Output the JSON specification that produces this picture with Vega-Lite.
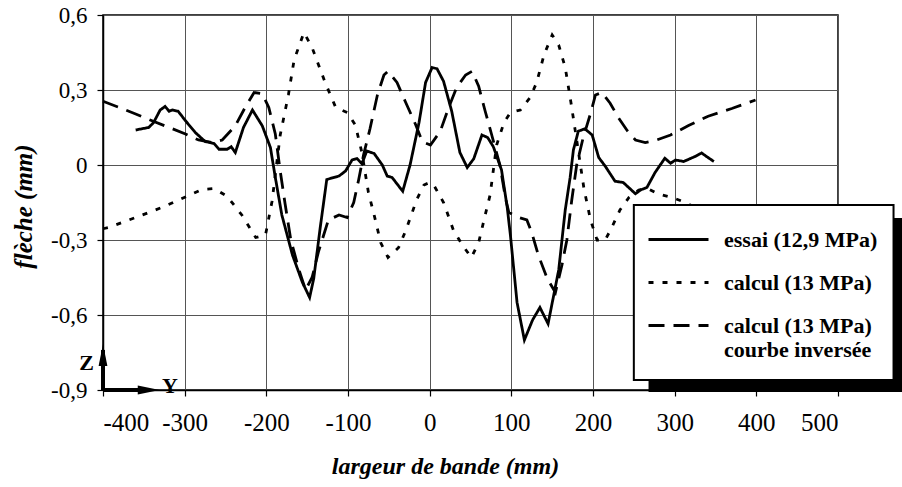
{
  "$schema": "https://vega.github.io/schema/vega-lite/v6.json",
  "autosize": {"type": "none"},
  "padding": {"left": 103, "top": 15, "right": 64, "bottom": 97},
  "width": 735,
  "height": 375,
  "background": "white",
  "config": {
    "font": "Liberation Serif",
    "view": {"stroke": "black", "strokeWidth": 1.5},
    "axis": {
      "domainColor": "black", "domainWidth": 1.5,
      "gridColor": "#555", "gridWidth": 1, "gridOpacity": 1,
      "tickColor": "black", "tickWidth": 1.2, "tickSize": 6,
      "labelFont": "Liberation Serif", "labelColor": "black",
      "titleFont": "Liberation Serif", "titleColor": "black",
      "titleFontStyle": "italic", "titleFontWeight": "bold"
    }
  },
  "layer": [
    {
      "data": {"values": [
        {"s":"essai (12,9 MPa)","x":-360,"y":0.14},{"s":"essai (12,9 MPa)","x":-344,"y":0.15},{"s":"essai (12,9 MPa)","x":-338,"y":0.17},{"s":"essai (12,9 MPa)","x":-330,"y":0.22},{"s":"essai (12,9 MPa)","x":-324,"y":0.234},{"s":"essai (12,9 MPa)","x":-319,"y":0.215},{"s":"essai (12,9 MPa)","x":-315,"y":0.22},{"s":"essai (12,9 MPa)","x":-308,"y":0.215},{"s":"essai (12,9 MPa)","x":-299,"y":0.177},{"s":"essai (12,9 MPa)","x":-287,"y":0.13},{"s":"essai (12,9 MPa)","x":-275,"y":0.094},{"s":"essai (12,9 MPa)","x":-264,"y":0.086},{"s":"essai (12,9 MPa)","x":-258,"y":0.063},{"s":"essai (12,9 MPa)","x":-248,"y":0.063},{"s":"essai (12,9 MPa)","x":-243,"y":0.073},{"s":"essai (12,9 MPa)","x":-238,"y":0.05},{"s":"essai (12,9 MPa)","x":-228,"y":0.15},{"s":"essai (12,9 MPa)","x":-217,"y":0.22},{"s":"essai (12,9 MPa)","x":-205,"y":0.157},{"s":"essai (12,9 MPa)","x":-195,"y":0.07},{"s":"essai (12,9 MPa)","x":-189,"y":-0.05},{"s":"essai (12,9 MPa)","x":-181,"y":-0.2},{"s":"essai (12,9 MPa)","x":-168,"y":-0.36},{"s":"essai (12,9 MPa)","x":-156,"y":-0.468},{"s":"essai (12,9 MPa)","x":-147,"y":-0.53},{"s":"essai (12,9 MPa)","x":-142,"y":-0.455},{"s":"essai (12,9 MPa)","x":-134,"y":-0.25},{"s":"essai (12,9 MPa)","x":-126,"y":-0.058},{"s":"essai (12,9 MPa)","x":-111,"y":-0.044},{"s":"essai (12,9 MPa)","x":-103,"y":-0.024},{"s":"essai (12,9 MPa)","x":-95,"y":0.02},{"s":"essai (12,9 MPa)","x":-89,"y":0.026},{"s":"essai (12,9 MPa)","x":-83,"y":0.005},{"s":"essai (12,9 MPa)","x":-77,"y":0.056},{"s":"essai (12,9 MPa)","x":-68,"y":0.046},{"s":"essai (12,9 MPa)","x":-58,"y":0.0},{"s":"essai (12,9 MPa)","x":-52,"y":-0.044},{"s":"essai (12,9 MPa)","x":-46,"y":-0.05},{"s":"essai (12,9 MPa)","x":-33,"y":-0.105},{"s":"essai (12,9 MPa)","x":-24,"y":0.0},{"s":"essai (12,9 MPa)","x":-13,"y":0.17},{"s":"essai (12,9 MPa)","x":-5,"y":0.33},{"s":"essai (12,9 MPa)","x":3,"y":0.39},{"s":"essai (12,9 MPa)","x":9,"y":0.385},{"s":"essai (12,9 MPa)","x":17,"y":0.335},{"s":"essai (12,9 MPa)","x":27,"y":0.215},{"s":"essai (12,9 MPa)","x":37,"y":0.05},{"s":"essai (12,9 MPa)","x":46,"y":-0.01},{"s":"essai (12,9 MPa)","x":54,"y":0.025},{"s":"essai (12,9 MPa)","x":64,"y":0.12},{"s":"essai (12,9 MPa)","x":71,"y":0.11},{"s":"essai (12,9 MPa)","x":78,"y":0.073},{"s":"essai (12,9 MPa)","x":88,"y":-0.02},{"s":"essai (12,9 MPa)","x":95,"y":-0.17},{"s":"essai (12,9 MPa)","x":99,"y":-0.285},{"s":"essai (12,9 MPa)","x":107,"y":-0.55},{"s":"essai (12,9 MPa)","x":116,"y":-0.7},{"s":"essai (12,9 MPa)","x":126,"y":-0.62},{"s":"essai (12,9 MPa)","x":135,"y":-0.57},{"s":"essai (12,9 MPa)","x":145,"y":-0.635},{"s":"essai (12,9 MPa)","x":158,"y":-0.42},{"s":"essai (12,9 MPa)","x":166,"y":-0.18},{"s":"essai (12,9 MPa)","x":172,"y":-0.05},{"s":"essai (12,9 MPa)","x":176,"y":0.06},{"s":"essai (12,9 MPa)","x":182,"y":0.135},{"s":"essai (12,9 MPa)","x":190,"y":0.145},{"s":"essai (12,9 MPa)","x":199,"y":0.12},{"s":"essai (12,9 MPa)","x":207,"y":0.03},{"s":"essai (12,9 MPa)","x":215,"y":-0.005},{"s":"essai (12,9 MPa)","x":227,"y":-0.065},{"s":"essai (12,9 MPa)","x":237,"y":-0.07},{"s":"essai (12,9 MPa)","x":252,"y":-0.115},{"s":"essai (12,9 MPa)","x":258,"y":-0.1},{"s":"essai (12,9 MPa)","x":266,"y":-0.09},{"s":"essai (12,9 MPa)","x":276,"y":-0.03},{"s":"essai (12,9 MPa)","x":288,"y":0.027},{"s":"essai (12,9 MPa)","x":295,"y":0.007},{"s":"essai (12,9 MPa)","x":301,"y":0.02},{"s":"essai (12,9 MPa)","x":311,"y":0.014},{"s":"essai (12,9 MPa)","x":325,"y":0.034},{"s":"essai (12,9 MPa)","x":333,"y":0.048},{"s":"essai (12,9 MPa)","x":339,"y":0.034},{"s":"essai (12,9 MPa)","x":348,"y":0.014},
        {"s":"calcul (13 MPa)","x":-400,"y":-0.255},{"s":"calcul (13 MPa)","x":-393,"y":-0.25},{"s":"calcul (13 MPa)","x":-360,"y":-0.21},{"s":"calcul (13 MPa)","x":-328,"y":-0.17},{"s":"calcul (13 MPa)","x":-297,"y":-0.125},{"s":"calcul (13 MPa)","x":-279,"y":-0.098},{"s":"calcul (13 MPa)","x":-264,"y":-0.094},{"s":"calcul (13 MPa)","x":-248,"y":-0.125},{"s":"calcul (13 MPa)","x":-230,"y":-0.2},{"s":"calcul (13 MPa)","x":-213,"y":-0.29},{"s":"calcul (13 MPa)","x":-201,"y":-0.28},{"s":"calcul (13 MPa)","x":-193,"y":-0.145},{"s":"calcul (13 MPa)","x":-183,"y":0.12},{"s":"calcul (13 MPa)","x":-173,"y":0.28},{"s":"calcul (13 MPa)","x":-166,"y":0.42},{"s":"calcul (13 MPa)","x":-154,"y":0.53},{"s":"calcul (13 MPa)","x":-144,"y":0.47},{"s":"calcul (13 MPa)","x":-128,"y":0.33},{"s":"calcul (13 MPa)","x":-115,"y":0.23},{"s":"calcul (13 MPa)","x":-101,"y":0.21},{"s":"calcul (13 MPa)","x":-91,"y":0.16},{"s":"calcul (13 MPa)","x":-83,"y":0.05},{"s":"calcul (13 MPa)","x":-75,"y":-0.11},{"s":"calcul (13 MPa)","x":-68,"y":-0.2},{"s":"calcul (13 MPa)","x":-60,"y":-0.31},{"s":"calcul (13 MPa)","x":-51,"y":-0.37},{"s":"calcul (13 MPa)","x":-38,"y":-0.33},{"s":"calcul (13 MPa)","x":-29,"y":-0.26},{"s":"calcul (13 MPa)","x":-16,"y":-0.14},{"s":"calcul (13 MPa)","x":-7,"y":-0.08},{"s":"calcul (13 MPa)","x":0,"y":-0.07},{"s":"calcul (13 MPa)","x":5,"y":-0.08},{"s":"calcul (13 MPa)","x":17,"y":-0.15},{"s":"calcul (13 MPa)","x":29,"y":-0.26},{"s":"calcul (13 MPa)","x":40,"y":-0.32},{"s":"calcul (13 MPa)","x":51,"y":-0.37},{"s":"calcul (13 MPa)","x":60,"y":-0.31},{"s":"calcul (13 MPa)","x":68,"y":-0.2},{"s":"calcul (13 MPa)","x":74,"y":-0.12},{"s":"calcul (13 MPa)","x":82,"y":0.08},{"s":"calcul (13 MPa)","x":91,"y":0.17},{"s":"calcul (13 MPa)","x":99,"y":0.21},{"s":"calcul (13 MPa)","x":111,"y":0.22},{"s":"calcul (13 MPa)","x":123,"y":0.27},{"s":"calcul (13 MPa)","x":131,"y":0.33},{"s":"calcul (13 MPa)","x":140,"y":0.44},{"s":"calcul (13 MPa)","x":150,"y":0.52},{"s":"calcul (13 MPa)","x":158,"y":0.48},{"s":"calcul (13 MPa)","x":166,"y":0.39},{"s":"calcul (13 MPa)","x":173,"y":0.25},{"s":"calcul (13 MPa)","x":180,"y":0.1},{"s":"calcul (13 MPa)","x":189,"y":-0.096},{"s":"calcul (13 MPa)","x":197,"y":-0.22},{"s":"calcul (13 MPa)","x":205,"y":-0.3},{"s":"calcul (13 MPa)","x":215,"y":-0.3},{"s":"calcul (13 MPa)","x":223,"y":-0.25},{"s":"calcul (13 MPa)","x":233,"y":-0.18},{"s":"calcul (13 MPa)","x":244,"y":-0.13},{"s":"calcul (13 MPa)","x":256,"y":-0.1},{"s":"calcul (13 MPa)","x":268,"y":-0.096},{"s":"calcul (13 MPa)","x":280,"y":-0.116},{"s":"calcul (13 MPa)","x":297,"y":-0.13},{"s":"calcul (13 MPa)","x":313,"y":-0.15},{"s":"calcul (13 MPa)","x":338,"y":-0.19},{"s":"calcul (13 MPa)","x":370,"y":-0.22},{"s":"calcul (13 MPa)","x":400,"y":-0.26},
        {"s":"calcul (13 MPa) courbe inversée","x":-400,"y":0.255},{"s":"calcul (13 MPa) courbe inversée","x":-380,"y":0.23},{"s":"calcul (13 MPa) courbe inversée","x":-360,"y":0.204},{"s":"calcul (13 MPa) courbe inversée","x":-340,"y":0.177},{"s":"calcul (13 MPa) courbe inversée","x":-319,"y":0.15},{"s":"calcul (13 MPa) courbe inversée","x":-299,"y":0.124},{"s":"calcul (13 MPa) courbe inversée","x":-283,"y":0.1},{"s":"calcul (13 MPa) courbe inversée","x":-266,"y":0.09},{"s":"calcul (13 MPa) courbe inversée","x":-254,"y":0.1},{"s":"calcul (13 MPa) courbe inversée","x":-238,"y":0.157},{"s":"calcul (13 MPa) courbe inversée","x":-226,"y":0.23},{"s":"calcul (13 MPa) courbe inversée","x":-215,"y":0.29},{"s":"calcul (13 MPa) courbe inversée","x":-205,"y":0.285},{"s":"calcul (13 MPa) courbe inversée","x":-197,"y":0.23},{"s":"calcul (13 MPa) courbe inversée","x":-189,"y":0.124},{"s":"calcul (13 MPa) courbe inversée","x":-183,"y":-0.024},{"s":"calcul (13 MPa) courbe inversée","x":-177,"y":-0.156},{"s":"calcul (13 MPa) courbe inversée","x":-170,"y":-0.3},{"s":"calcul (13 MPa) courbe inversée","x":-160,"y":-0.42},{"s":"calcul (13 MPa) courbe inversée","x":-152,"y":-0.5},{"s":"calcul (13 MPa) courbe inversée","x":-144,"y":-0.45},{"s":"calcul (13 MPa) courbe inversée","x":-136,"y":-0.345},{"s":"calcul (13 MPa) courbe inversée","x":-124,"y":-0.22},{"s":"calcul (13 MPa) courbe inversée","x":-111,"y":-0.2},{"s":"calcul (13 MPa) courbe inversée","x":-101,"y":-0.21},{"s":"calcul (13 MPa) courbe inversée","x":-93,"y":-0.15},{"s":"calcul (13 MPa) courbe inversée","x":-87,"y":-0.06},{"s":"calcul (13 MPa) courbe inversée","x":-81,"y":0.04},{"s":"calcul (13 MPa) courbe inversée","x":-73,"y":0.146},{"s":"calcul (13 MPa) courbe inversée","x":-64,"y":0.28},{"s":"calcul (13 MPa) courbe inversée","x":-56,"y":0.36},{"s":"calcul (13 MPa) courbe inversée","x":-51,"y":0.375},{"s":"calcul (13 MPa) courbe inversée","x":-40,"y":0.33},{"s":"calcul (13 MPa) courbe inversée","x":-30,"y":0.255},{"s":"calcul (13 MPa) courbe inversée","x":-17,"y":0.16},{"s":"calcul (13 MPa) courbe inversée","x":-9,"y":0.093},{"s":"calcul (13 MPa) courbe inversée","x":1,"y":0.08},{"s":"calcul (13 MPa) courbe inversée","x":13,"y":0.135},{"s":"calcul (13 MPa) courbe inversée","x":23,"y":0.227},{"s":"calcul (13 MPa) courbe inversée","x":33,"y":0.31},{"s":"calcul (13 MPa) courbe inversée","x":44,"y":0.36},{"s":"calcul (13 MPa) courbe inversée","x":52,"y":0.375},{"s":"calcul (13 MPa) courbe inversée","x":60,"y":0.315},{"s":"calcul (13 MPa) courbe inversée","x":68,"y":0.215},{"s":"calcul (13 MPa) courbe inversée","x":76,"y":0.12},{"s":"calcul (13 MPa) courbe inversée","x":86,"y":0.0},{"s":"calcul (13 MPa) courbe inversée","x":93,"y":-0.135},{"s":"calcul (13 MPa) courbe inversée","x":97,"y":-0.19},{"s":"calcul (13 MPa) courbe inversée","x":109,"y":-0.21},{"s":"calcul (13 MPa) courbe inversée","x":119,"y":-0.22},{"s":"calcul (13 MPa) courbe inversée","x":125,"y":-0.27},{"s":"calcul (13 MPa) courbe inversée","x":133,"y":-0.36},{"s":"calcul (13 MPa) courbe inversée","x":144,"y":-0.455},{"s":"calcul (13 MPa) courbe inversée","x":154,"y":-0.51},{"s":"calcul (13 MPa) courbe inversée","x":162,"y":-0.4},{"s":"calcul (13 MPa) courbe inversée","x":168,"y":-0.3},{"s":"calcul (13 MPa) courbe inversée","x":174,"y":-0.14},{"s":"calcul (13 MPa) courbe inversée","x":180,"y":0.0},{"s":"calcul (13 MPa) courbe inversée","x":188,"y":0.11},{"s":"calcul (13 MPa) courbe inversée","x":197,"y":0.206},{"s":"calcul (13 MPa) courbe inversée","x":203,"y":0.28},{"s":"calcul (13 MPa) courbe inversée","x":211,"y":0.29},{"s":"calcul (13 MPa) courbe inversée","x":221,"y":0.247},{"s":"calcul (13 MPa) courbe inversée","x":231,"y":0.19},{"s":"calcul (13 MPa) courbe inversée","x":242,"y":0.137},{"s":"calcul (13 MPa) courbe inversée","x":252,"y":0.1},{"s":"calcul (13 MPa) courbe inversée","x":264,"y":0.09},{"s":"calcul (13 MPa) courbe inversée","x":278,"y":0.1},{"s":"calcul (13 MPa) courbe inversée","x":295,"y":0.12},{"s":"calcul (13 MPa) courbe inversée","x":317,"y":0.158},{"s":"calcul (13 MPa) courbe inversée","x":341,"y":0.195},{"s":"calcul (13 MPa) courbe inversée","x":370,"y":0.226},{"s":"calcul (13 MPa) courbe inversée","x":399,"y":0.26}
      ]},
      "mark": {"type": "line", "color": "black", "strokeWidth": 2.8},
      "encoding": {
        "x": {
          "field": "x", "type": "quantitative",
          "scale": {"domain": [-400, 500], "nice": false, "zero": false},
          "axis": {
            "values": [-400, -300, -200, -100, 0, 100, 200, 300, 400, 500],
            "labelExpr": "(datum.value < 0 ? '-' : '') + abs(datum.value)",
            "labelFont": "Liberation Serif", "labelFontSize": 25, "labelPadding": 14, "labelBaseline": "top",
            "title": "largeur de bande (mm)", "titleFont": "Liberation Serif", "titleFontSize": 24,
            "titleX": 342, "titleY": 76, "titleAlign": "center", "titleBaseline": "middle",
            "grid": true
          }
        },
        "y": {
          "field": "y", "type": "quantitative",
          "scale": {"domain": [-0.9, 0.6], "nice": false, "zero": false},
          "axis": {
            "values": [-0.9, -0.6, -0.3, 0, 0.3, 0.6],
            "labelExpr": "datum.value == 0 ? '0' : (datum.value < 0 ? '-' : '') + '0,' + round(abs(datum.value) * 10)",
            "labelFont": "Liberation Serif", "labelFontSize": 23, "labelPadding": 10,
            "title": "flèche (mm)", "titleFont": "Liberation Serif", "titleFontSize": 25,
            "titleX": -80, "titleY": 191, "titleAngle": -90, "titleAlign": "center", "titleBaseline": "middle",
            "grid": true
          }
        },
        "strokeDash": {
          "field": "s", "type": "nominal",
          "scale": {
            "domain": ["essai (12,9 MPa)", "calcul (13 MPa)", "calcul (13 MPa) courbe inversée"],
            "range": [[1, 0], [5, 9], [16, 9]]
          },
          "legend": {
            "title": null,
            "orient": "none", "legendX": 544, "legendY": 193,
            "padding": 0,
            "symbolType": "stroke", "symbolSize": 3600, "symbolStrokeWidth": 3, "symbolStrokeColor": "black",
            "labelFont": "Liberation Serif", "labelFontWeight": "bold", "labelFontSize": 22, "labelColor": "black",
            "labelOffset": 14, "labelLimit": 300, "rowPadding": 0,
            "labelExpr": "datum.value == 'calcul (13 MPa) courbe inversée' ? ['calcul (13 MPa)', 'courbe inversée'] : datum.value"
          }
        }
      }
    },
    {
      "data": {"values": [{}]},
      "mark": {"type": "rect", "color": "black"},
      "encoding": {
        "x": {"datum": 268, "type": "quantitative"},
        "x2": {"datum": 580},
        "y": {"datum": -0.212, "type": "quantitative"},
        "y2": {"datum": -0.908}
      }
    },
    {
      "data": {"values": [{}]},
      "mark": {"type": "rect", "fill": "white", "stroke": "black", "strokeWidth": 2},
      "encoding": {
        "x": {"datum": 250, "type": "quantitative"},
        "x2": {"datum": 568},
        "y": {"datum": -0.16, "type": "quantitative"},
        "y2": {"datum": -0.86}
      }
    },
    {
      "data": {"values": [{}]},
      "mark": {"type": "rule", "color": "black", "strokeWidth": 4},
      "encoding": {
        "x": {"datum": -400, "type": "quantitative"},
        "y": {"datum": -0.9, "type": "quantitative"},
        "y2": {"datum": -0.74}
      }
    },
    {
      "data": {"values": [{}]},
      "mark": {"type": "rule", "color": "black", "strokeWidth": 4},
      "encoding": {
        "x": {"datum": -400, "type": "quantitative"},
        "x2": {"datum": -348},
        "y": {"datum": -0.9, "type": "quantitative"}
      }
    },
    {
      "data": {"values": [{}]},
      "mark": {"type": "point", "filled": true, "color": "black", "opacity": 1, "size": 484, "shape": "M-0.4,1L0,-1L0.4,1Z"},
      "encoding": {
        "x": {"datum": -400, "type": "quantitative"},
        "y": {"datum": -0.76, "type": "quantitative"}
      }
    },
    {
      "data": {"values": [{}]},
      "mark": {"type": "point", "filled": true, "color": "black", "opacity": 1, "size": 484, "shape": "M-1,-0.4L1,0L-1,0.4Z"},
      "encoding": {
        "x": {"datum": -344, "type": "quantitative"},
        "y": {"datum": -0.9, "type": "quantitative"}
      }
    },
    {
      "data": {"values": [{"t": "Z"}]},
      "mark": {"type": "text", "font": "Liberation Serif", "fontWeight": "bold", "fontSize": 22, "color": "black", "align": "center", "baseline": "middle"},
      "encoding": {
        "x": {"datum": -420, "type": "quantitative"},
        "y": {"datum": -0.79, "type": "quantitative"},
        "text": {"field": "t"}
      }
    },
    {
      "data": {"values": [{"t": "Y"}]},
      "mark": {"type": "text", "font": "Liberation Serif", "fontWeight": "bold", "fontSize": 22, "color": "black", "align": "center", "baseline": "middle"},
      "encoding": {
        "x": {"datum": -318, "type": "quantitative"},
        "y": {"datum": -0.885, "type": "quantitative"},
        "text": {"field": "t"}
      }
    }
  ]
}
